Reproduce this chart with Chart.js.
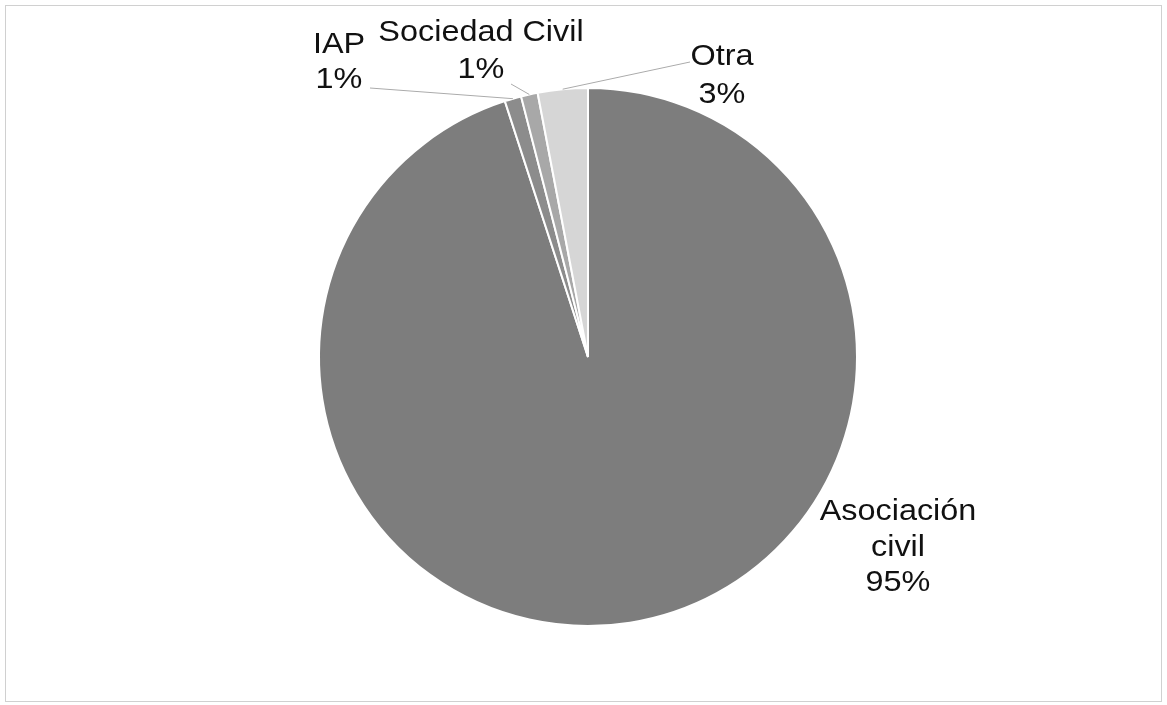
<!DOCTYPE html>
<html>
<head>
<meta charset="utf-8">
<script src="https://cdn.jsdelivr.net/npm/chart.js@4"></script>
<style>
  html, body { margin: 0; padding: 0; background: #fff; }
  #wrap { position: relative; width: 1167px; height: 705px; }
</style>
</head>
<body>
<div id="wrap"><canvas id="tipoChart" width="1167" height="705"></canvas></div>
<script>
// Tipo de organización (porcentaje)
const categorias = ['Asociación civil', 'IAP', 'Sociedad Civil', 'Otra'];
const porcentajes = [95, 1, 1, 3];
const colores = ['#7d7d7d', '#8c8c8c', '#a8a8a8', '#d6d6d6'];

// posición de cada etiqueta (centro x, línea base de cada renglón) y línea guía
const etiquetas = [
  { lineas: ['Asociación', 'civil', '95%'], x: 898, y: [520, 556, 591], guia: false },
  { lineas: ['IAP', '1%'], x: 339, y: [53, 88], guia: true, finX: 370, finY: 88 },
  { lineas: ['Sociedad Civil', '1%'], x: 481, y: [41, 78], guia: true, finX: 511, finY: 84 },
  { lineas: ['Otra', '3%'], x: 722, y: [65, 103], guia: true, finX: 690, finY: 62 }
];

const etiquetasPlugin = {
  id: 'etiquetas',
  beforeDraw(chart) {
    const ctx = chart.ctx;
    ctx.save();
    ctx.strokeStyle = '#d0d0d0';
    ctx.lineWidth = 1;
    ctx.strokeRect(5.5, 5.5, 1156, 696);
    ctx.restore();
  },
  afterDraw(chart) {
    const ctx = chart.ctx;
    const arcs = chart.getDatasetMeta(0).data;
    ctx.save();
    etiquetas.forEach((et, i) => {
      if (et.guia) {
        const arc = arcs[i];
        const mid = (arc.startAngle + arc.endAngle) / 2;
        const r = arc.outerRadius;
        ctx.strokeStyle = '#ababab';
        ctx.lineWidth = 1;
        ctx.beginPath();
        ctx.moveTo(arc.x + Math.cos(mid) * r, arc.y + Math.sin(mid) * r);
        ctx.lineTo(et.finX, et.finY);
        ctx.stroke();
      }
      ctx.fillStyle = '#111';
      ctx.font = '30px "Liberation Sans", Arial, sans-serif';
      ctx.textAlign = 'center';
      ctx.textBaseline = 'alphabetic';
      et.lineas.forEach((t, j) => {
        ctx.save();
        ctx.translate(et.x, et.y[j]);
        ctx.scale(1.08, 1);
        ctx.fillText(t, 0, 0);
        ctx.restore();
      });
    });
    ctx.restore();
  }
};

const tipoCtx = document.getElementById('tipoChart').getContext('2d');
const tipoChart = new Chart(tipoCtx, {
  type: 'pie',
  data: {
    labels: categorias,
    datasets: [{
      data: porcentajes,
      backgroundColor: colores,
      borderColor: '#ffffff',
      borderWidth: 2
    }]
  },
  options: {
    responsive: false,
    animation: false,
    layout: {
      padding: { top: 87, bottom: 78, left: 100, right: 91 }
    },
    plugins: {
      legend: { display: false },
      tooltip: { enabled: false }
    }
  },
  plugins: [etiquetasPlugin]
});
</script>
</body>
</html>
